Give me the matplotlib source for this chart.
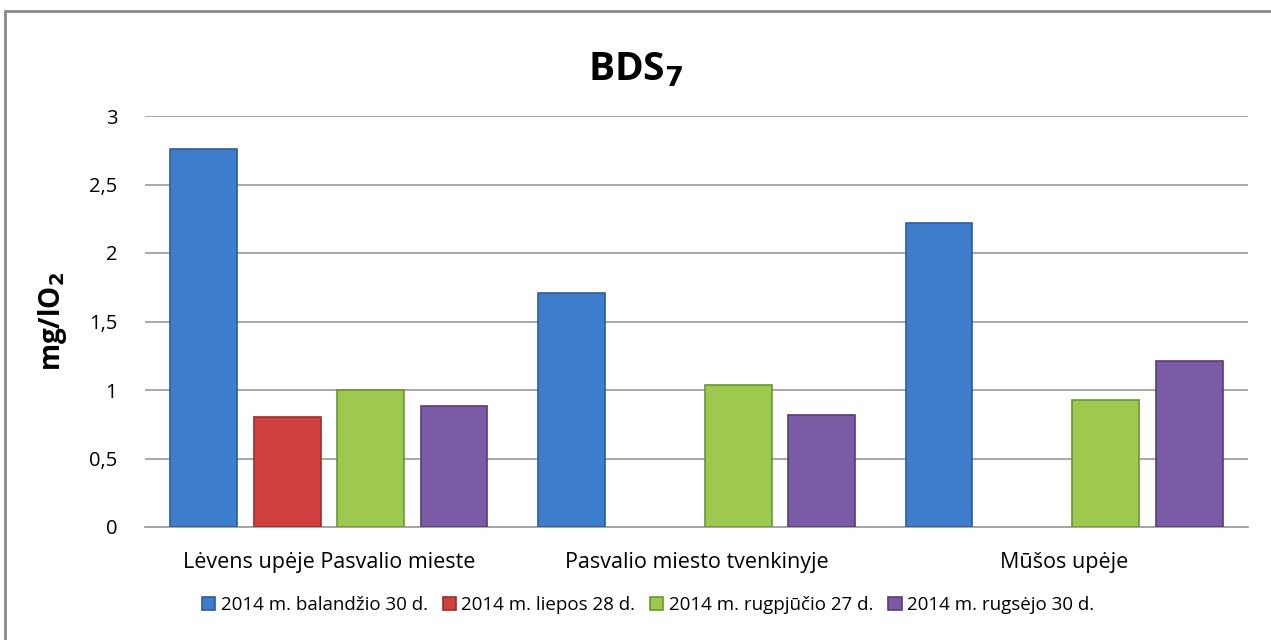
import numpy as np
from matplotlib import pyplot as plt
from matplotlib.patches import Rectangle

plt.rcParams["font.family"] = ["Open Sans", "DejaVu Sans"]

# Data
categories = ["Lėvens upėje Pasvalio mieste", "Pasvalio miesto tvenkinyje", "Mūšos upėje"]
series_names = [
    "2014 m. balandžio 30 d.",
    "2014 m. liepos 28 d.",
    "2014 m. rugpjūčio 27 d.",
    "2014 m. rugsėjo 30 d.",
]
balandzio = [2.76, 1.71, 2.22]
liepos = [0.80, np.nan, np.nan]
rugpjucio = [1.00, 1.04, 0.93]
rugsejo = [0.88, 0.82, 1.21]
yticks = [0, 0.5, 1, 1.5, 2, 2.5, 3]
ytick_labels = ["0", "0,5", "1", "1,5", "2", "2,5", "3"]

colors = ["#3E7DCB", "#D0403E", "#9DC94E", "#7C5BA6"]
edges = ["#2C5C98", "#9A2E2C", "#6F9234", "#553D78"]

fig = plt.figure(figsize=(12.71, 6.4), dpi=100)
ax = fig.add_axes([145 / 1271, 1 - 527 / 640, (1248 - 145) / 1271, (527 - 116) / 640])

x = np.arange(len(categories))
width = 0.182
step = 0.227
for i, (vals, name) in enumerate(zip([balandzio, liepos, rugpjucio, rugsejo], series_names)):
    ax.bar(x + (i - 1.5) * step, vals, width, color=colors[i], edgecolor=edges[i],
           linewidth=1.2, label=name, zorder=3)

ax.set_xlim(-0.5, 2.5)
ax.set_ylim(0, 3)
ax.set_yticks(yticks)
ax.set_yticklabels(ytick_labels, fontsize=14.5)
ax.set_xticks(x)
ax.set_xticklabels(categories, fontsize=15.5)
ax.tick_params(axis="y", length=0, pad=20)
ax.tick_params(axis="x", length=0, pad=18)
ax.yaxis.grid(True, color="#A0A0A0", linewidth=1.3, zorder=0)
for side in ["left", "right", "top"]:
    ax.spines[side].set_visible(False)
ax.spines["bottom"].set_color("#A0A0A0")
ax.spines["bottom"].set_linewidth(1.3)

ax.set_ylabel("mg/lO$_\\mathbf{2}$", fontsize=20, fontweight="bold", labelpad=14)
fig.text(0.5, 1 - 70 / 640, "BDS$_\\mathbf{7}$", fontsize=28, fontweight="bold",
         ha="center", va="center")

fig.legend(loc="center", bbox_to_anchor=(648 / 1271, 1 - 605 / 640), ncol=4, frameon=False,
           fontsize=13.5, handlelength=0.7, handleheight=0.7, handletextpad=0.3,
           columnspacing=0.8)

fig.patches.append(Rectangle((5 / 1271, -0.05), 1.1, 1 - 11 / 640 + 0.05,
                             transform=fig.transFigure, fill=False,
                             edgecolor="#8A8A8A", linewidth=2))

fig.savefig("out.png", dpi=100)
